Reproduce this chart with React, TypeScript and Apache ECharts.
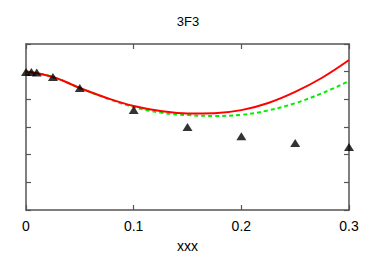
import React, { useEffect, useRef } from "react";
import * as echarts from "echarts";

const xTicks = [0, 0.1, 0.2, 0.3];
const pointsX = [0, 0.005, 0.01, 0.025, 0.05, 0.1, 0.15, 0.2, 0.25, 0.3];
const pointsY = [4.99, 4.99, 4.97, 4.81, 4.41, 3.61, 3.0, 2.67, 2.42, 2.28];
const curveX = [0, 0.025, 0.05, 0.075, 0.1, 0.125, 0.15, 0.175, 0.2, 0.225, 0.25, 0.275, 0.3];
const redY = [5.01, 4.81, 4.41, 4.05, 3.76, 3.58, 3.49, 3.5, 3.61, 3.87, 4.27, 4.78, 5.42];
const greenY = [5.01, 4.81, 4.41, 4.04, 3.72, 3.52, 3.43, 3.4, 3.44, 3.6, 3.86, 4.22, 4.66];

export default function App() {
  const ref = useRef<HTMLDivElement>(null);
  useEffect(() => {
    if (!ref.current) return;
    const chart = echarts.init(ref.current, null, { renderer: "svg" });
    const axisLine = { show: true, onZero: false, lineStyle: { color: "#555", width: 1.5 } };
    const tick = { show: true, inside: true, length: 5, lineStyle: { color: "#555", width: 1.2 } };
    chart.setOption({
      animation: false,
      backgroundColor: "#fff",
      title: {
        text: "3F3",
        left: "center",
        top: 10,
        textStyle: { fontFamily: "Liberation Sans", fontWeight: "normal", fontSize: 13, color: "#000" },
      },
      grid: { left: 26, right: 27, top: 44, bottom: 46, containLabel: false, outerBoundsMode: "none" },
      xAxis: [
        {
          type: "value",
          min: 0,
          max: 0.3,
          interval: 0.1,
          position: "bottom",
          axisLine,
          axisTick: tick,
          splitLine: { show: false },
          axisLabel: {
            fontFamily: "Liberation Sans",
            fontSize: 14,
            color: "#000",
            margin: 9,
            formatter: (v: number) => {
              const t = xTicks.find((x) => Math.abs(x - v) < 1e-9);
              return t === undefined ? "" : String(t);
            },
          },
          name: "xxx",
          nameLocation: "middle",
          nameGap: 29,
          nameTextStyle: { fontFamily: "Liberation Sans", fontSize: 14, color: "#000", verticalAlign: "top" },
        },
        {
          type: "value",
          min: 0,
          max: 0.3,
          interval: 0.1,
          position: "top",
          axisLine,
          axisTick: tick,
          splitLine: { show: false },
          axisLabel: { show: false },
        },
      ],
      yAxis: [
        {
          type: "value",
          min: 0,
          max: 6,
          interval: 1,
          position: "left",
          axisLine,
          axisTick: tick,
          splitLine: { show: false },
          axisLabel: { show: false },
        },
        {
          type: "value",
          min: 0,
          max: 6,
          interval: 1,
          position: "right",
          axisLine,
          axisTick: tick,
          splitLine: { show: false },
          axisLabel: { show: false },
        },
      ],
      series: [
        {
          type: "line",
          data: curveX.map((x, i) => [x, greenY[i]]),
          smooth: 0.4,
          showSymbol: false,
          lineStyle: { color: "#00ee00", width: 2, type: [4, 3] },
          z: 2,
        },
        {
          type: "line",
          data: curveX.map((x, i) => [x, redY[i]]),
          smooth: 0.4,
          showSymbol: false,
          lineStyle: { color: "#ff0000", width: 2 },
          z: 3,
        },
        {
          type: "scatter",
          data: pointsX.map((x, i) => [x, pointsY[i]]),
          symbol: "triangle",
          symbolSize: [10, 8],
          itemStyle: { color: "#000" },
          z: 4,
        },
      ],
    });
    return () => chart.dispose();
  }, []);
  return <div ref={ref} style={{ width: 376, height: 256, position: "absolute", left: 0, top: 0 }} />;
}
